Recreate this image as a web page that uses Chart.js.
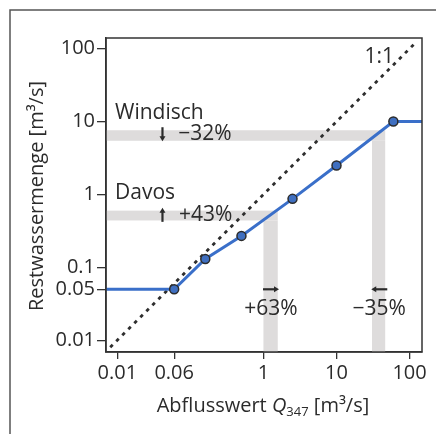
<!DOCTYPE html>
<html><head><meta charset="utf-8">
<script src="https://cdn.jsdelivr.net/npm/chart.js@4"></script>
<style>html,body{margin:0;padding:0;background:#fff;}#c{display:block;}</style>
</head><body>
<canvas id="c" width="436" height="434"></canvas>
<script>
// ---- data ----
const flowX = [0.007, 0.06, 0.16, 0.5, 2.5, 10, 60, 148];
const residualY = [0.05, 0.05, 0.13, 0.27, 0.87, 2.5, 10, 10];
const markerOn = [0, 1, 1, 1, 1, 1, 1, 0];
const identityX = [0.008, 120];
const xTicks = [0.01, 0.06, 1, 10, 100];
const xTickLabels = ['0.01', '0.06', '1', '10', '100'];
const yTicks = [0.01, 0.05, 0.1, 1, 10, 100];
const yTickLabels = ['0.01', '0.05', '0.1', '1', '10', '100'];
// shaded bands: y range of horizontal bar, x range of vertical bar
const windischBand = {y: [5.45, 7.6], x: [30.6, 46.4]};
const davosBand = {y: [0.44, 0.6], x: [1.0, 1.57]};
const xRange = [0.007, 148];
const yRange = [0.0069, 140];

const FONT = '"Open Sans", "DejaVu Sans", sans-serif';
const TXT = '#2b2b2b';

const bandsPlugin = {
  id: 'bands',
  beforeDatasetsDraw(chart) {
    const {ctx, chartArea: a, scales: {x, y}} = chart;
    ctx.save();
    ctx.fillStyle = '#dedcdc';
    [windischBand, davosBand].forEach(b => {
      const yt = y.getPixelForValue(b.y[1]), yb = y.getPixelForValue(b.y[0]);
      const xl = x.getPixelForValue(b.x[0]), xr = x.getPixelForValue(b.x[1]);
      ctx.fillRect(a.left, yt, xr - a.left, yb - yt);
      ctx.fillRect(xl, yb, xr - xl, a.bottom - yb);
    });
    ctx.restore();
  }
};

function arrow(ctx, x0, y0, x1, y1) {
  const ang = Math.atan2(y1 - y0, x1 - x0), h = 5;
  ctx.beginPath();
  ctx.moveTo(x0, y0); ctx.lineTo(x1 - Math.cos(ang) * 3, y1 - Math.sin(ang) * 3);
  ctx.stroke();
  ctx.beginPath();
  ctx.moveTo(x1, y1);
  ctx.lineTo(x1 - h * Math.cos(ang) + 3 * Math.sin(ang), y1 - h * Math.sin(ang) - 3 * Math.cos(ang));
  ctx.lineTo(x1 - h * Math.cos(ang) - 3 * Math.sin(ang), y1 - h * Math.sin(ang) + 3 * Math.cos(ang));
  ctx.closePath(); ctx.fill();
}

const decorPlugin = {
  id: 'decor',
  beforeDraw(chart) {
    const ctx = chart.ctx;
    ctx.save();
    ctx.strokeStyle = '#555';
    ctx.lineWidth = 1.5;
    ctx.beginPath();
    ctx.moveTo(10, 440); ctx.lineTo(10, 10); ctx.lineTo(440, 10);
    ctx.stroke();
    ctx.restore();
  },
  afterDraw(chart) {
    const {ctx, chartArea: a, scales: {x, y}} = chart;
    ctx.save();
    // box
    ctx.strokeStyle = '#333'; ctx.lineWidth = 1.5;
    ctx.strokeRect(a.left, a.top, a.right - a.left, a.bottom - a.top);
    ctx.fillStyle = TXT; ctx.strokeStyle = TXT;
    ctx.font = '21px ' + FONT;
    ctx.textBaseline = 'middle';
    const P = (vx, vy) => [x.getPixelForValue(vx), y.getPixelForValue(vy)];
    // labels
    ctx.textAlign = 'left';
    let p = P(0.0093, 13.3); ctx.fillText('Windisch', p[0], p[1]);
    p = P(0.068, 6.7); ctx.fillText('\u221232%', p[0], p[1]);
    p = P(0.0093, 1.05); ctx.fillText('Davos', p[0], p[1]);
    p = P(0.07, 0.525); ctx.fillText('+43%', p[0], p[1]);
    ctx.textAlign = 'center';
    p = P(1.27, 0.0272); ctx.fillText('+63%', p[0], p[1]);
    p = P(38.5, 0.0272); ctx.fillText('\u221235%', p[0], p[1]);
    p = P(38.5, 76); ctx.fillText('1:1', p[0], p[1]);
    // arrows
    ctx.lineWidth = 2.2;
    let q = P(0.0415, 6.7); arrow(ctx, q[0], q[1] - 7, q[0], q[1] + 7);
    q = P(0.0415, 0.525); arrow(ctx, q[0], q[1] + 7, q[0], q[1] - 7);
    q = P(1.27, 0.05); arrow(ctx, q[0] - 8, q[1], q[0] + 8, q[1]);
    q = P(38.5, 0.05); arrow(ctx, q[0] + 8, q[1], q[0] - 8, q[1]);
    // y title
    ctx.font = '20px ' + FONT;
    ctx.save();
    ctx.translate(37, (a.top + a.bottom) / 2 + 1);
    ctx.rotate(-Math.PI / 2);
    ctx.textAlign = 'center';
    ctx.fillText('Restwassermenge [m\u00b3/s]', 0, 0);
    ctx.restore();
    // x title with italic Q and subscript
    const parts = [
      {t: 'Abflusswert ', f: '20px ' + FONT, dy: 0},
      {t: 'Q', f: 'italic 20px ' + FONT, dy: 0},
      {t: '347', f: '13px ' + FONT, dy: 6},
      {t: ' [m\u00b3/s]', f: '20px ' + FONT, dy: 0}
    ];
    let w = 0;
    parts.forEach(s => { ctx.font = s.f; s.w = ctx.measureText(s.t).width; w += s.w; });
    let cx = 263 - w / 2;
    ctx.textAlign = 'left';
    parts.forEach(s => { ctx.font = s.f; ctx.fillText(s.t, cx, 406 + s.dy); cx += s.w; });
    ctx.restore();
  }
};

new Chart(document.getElementById('c'), {
  type: 'scatter',
  data: {
    datasets: [
      {
        label: 'Restwassermenge',
        data: flowX.map((v, i) => ({x: v, y: residualY[i]})),
        showLine: true,
        borderColor: '#3a6fc9',
        borderWidth: 3,
        pointRadius: markerOn.map(m => m ? 4.5 : 0),
        pointBackgroundColor: '#3f6fc0',
        pointBorderColor: '#2b2b2b',
        pointBorderWidth: 1.5,
        tension: 0,
        order: 1
      },
      {
        label: '1:1',
        data: identityX.map(v => ({x: v, y: v})),
        showLine: true,
        borderColor: '#2e2e2e',
        borderWidth: 2.8,
        borderDash: [3.5, 5],
        pointRadius: 0,
        order: 2
      }
    ]
  },
  options: {
    responsive: false,
    animation: false,
    layout: {padding: {left: 0, top: 38, right: 14, bottom: 0}},
    plugins: {legend: {display: false}, tooltip: {enabled: false}},
    scales: {
      x: {
        type: 'logarithmic', min: xRange[0], max: xRange[1],
        afterBuildTicks: s => { s.ticks = xTicks.map(v => ({value: v})); },
        afterFit: s => { s.height = 82; },
        ticks: {
          autoSkip: false, maxRotation: 0, padding: 2, color: TXT,
          font: {family: FONT, size: 20},
          callback: (v, i) => xTickLabels[i]
        },
        grid: {drawOnChartArea: false, drawTicks: true, tickLength: 7, color: '#333', lineWidth: 1.3},
        border: {display: true, color: '#333', width: 1.5}
      },
      y: {
        type: 'logarithmic', min: yRange[0], max: yRange[1],
        afterBuildTicks: s => { s.ticks = yTicks.map(v => ({value: v})); },
        afterFit: s => { s.width = 106; },
        ticks: {
          autoSkip: false, padding: 2, color: TXT,
          font: {family: FONT, size: 20},
          callback: (v, i) => yTickLabels[i]
        },
        grid: {drawOnChartArea: false, drawTicks: true, tickLength: 9, color: '#333', lineWidth: 1.3},
        border: {display: true, color: '#333', width: 1.5}
      }
    }
  },
  plugins: [bandsPlugin, decorPlugin]
});
</script>
</body></html>
